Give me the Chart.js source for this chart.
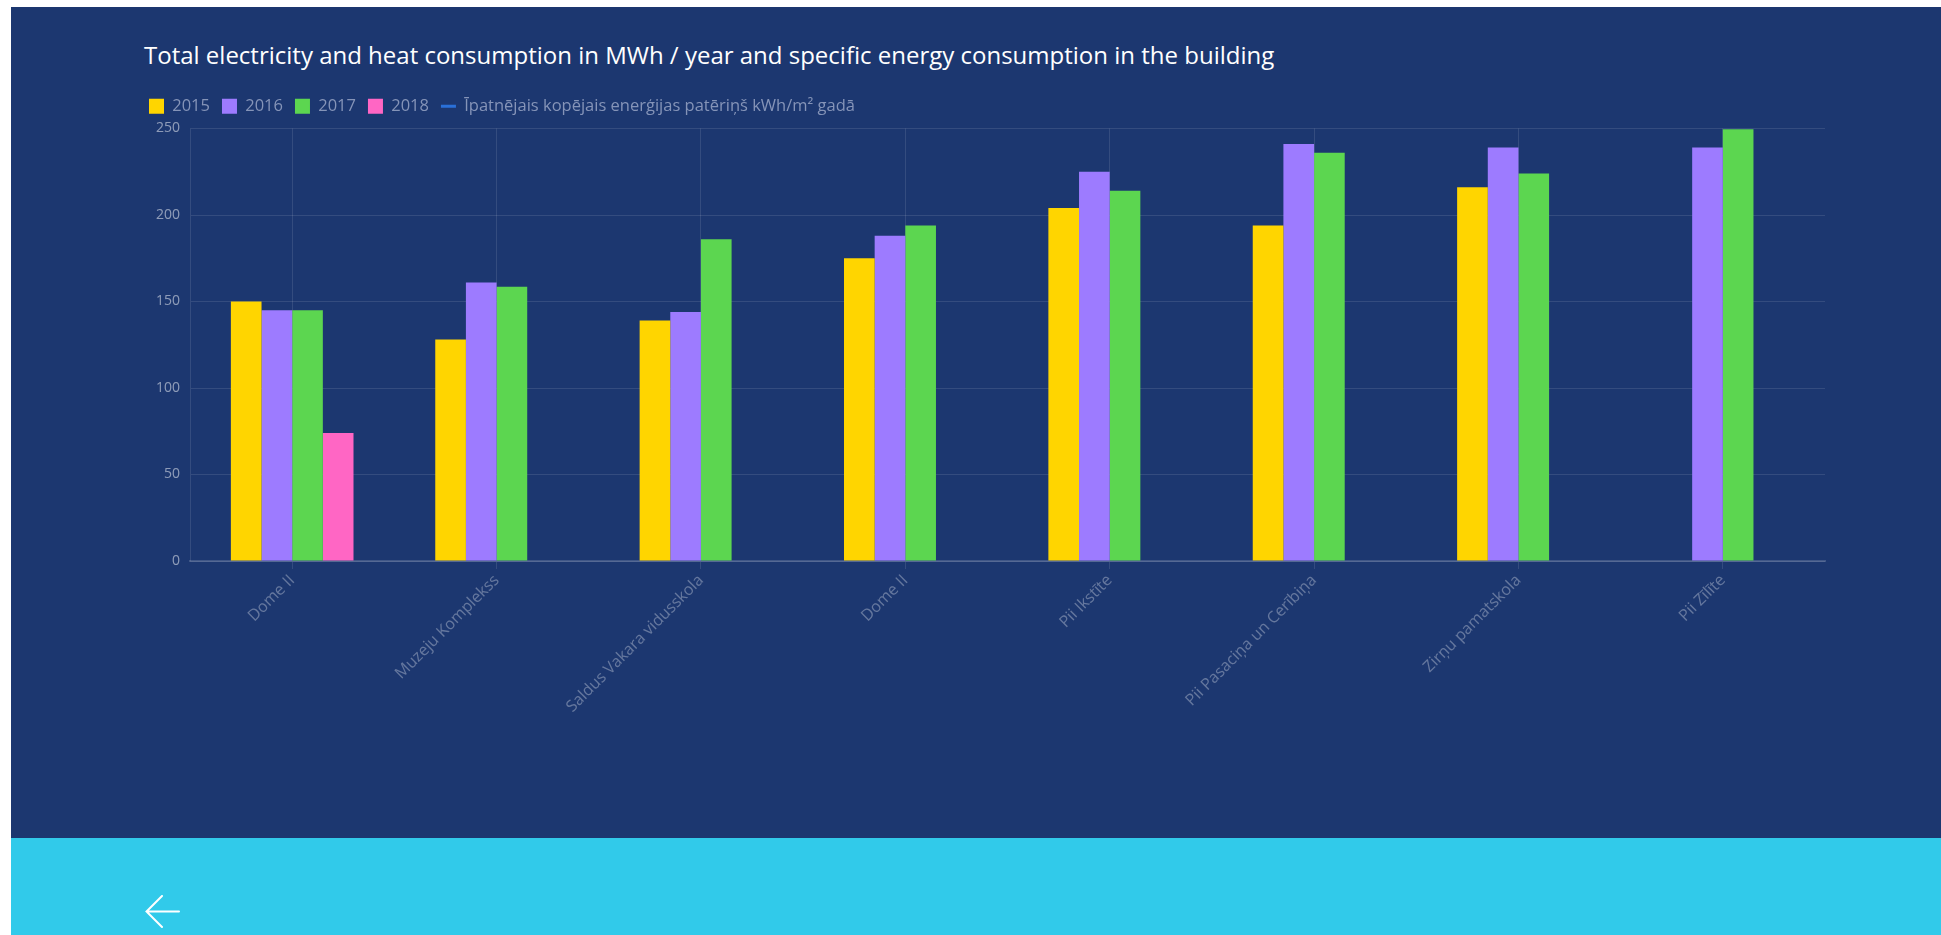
<!DOCTYPE html>
<html>
<head>
<meta charset="utf-8">
<script src="https://cdn.jsdelivr.net/npm/chart.js@4.4.1/dist/chart.umd.min.js"></script>
<style>
  body { margin: 0; background: #fff; width: 1941px; height: 935px; overflow: hidden; font-family: "Open Sans", sans-serif; }
  .panel { position: absolute; left: 11px; top: 7px; right: 0; height: 831px; background: #1c3770; }
  .footer { position: absolute; left: 11px; top: 838px; right: 0; bottom: 0; background: #31caea; }
  .title { position: absolute; left: 144px; top: 43px; font-size: 24px; line-height: 24px; color: #fff; white-space: nowrap; }
  .chart-box { position: absolute; left: 123px; top: 0; width: 1760px; height: 760px; }
  .back { position: absolute; left: 145px; top: 895px; }
</style>
</head>
<body>
<div class="panel"></div>
<div class="footer"></div>
<div class="title">Total electricity and heat consumption in MWh / year and specific energy consumption in the building</div>
<div class="chart-box"><canvas id="consumptionChart"></canvas></div>
<svg class="back" width="36" height="34" viewBox="0 0 36 34">
  <path d="M17 1 L1.5 16.5 L17 32 M1.5 16.5 L34 16.5" stroke="#fff" stroke-width="2" fill="none" stroke-linecap="round"/>
</svg>
<script>
const buildings = [
  "Dome II", "Muzeju Komplekss", "Saldus Vakara vidusskola", "Dome II",
  "Pii Ikstīte", "Pii Pasaciņa un Cerībiņa", "Zirņu pamatskola", "Pii Zīlīte"
];

const y2015 = [150, 128, 139, 175, 204, 194, 216, null];
const y2016 = [145, 161, 144, 188, 225, 241, 239, 239];
const y2017 = [145, 158.5, 186, 194, 214, 236, 224, 249.5];
const y2018 = [74, null, null, null, null, null, null, null];

// specific consumption line is only in the legend, no points shown
const specific = [null, null, null, null, null, null, null, null];

const yTicks = [0, 50, 100, 150, 200, 250];

const gridColor = "rgba(255,255,255,0.11)";
const tickColor = "rgba(255,255,255,0.5)";

// a bit of space under the legend
const legendGap = {
  id: "legendGap",
  beforeInit(chart) {
    const fit = chart.legend.fit;
    chart.legend.fit = function () {
      fit.bind(chart.legend)();
      this.height += 4;
    };
  }
};

const ctx = document.getElementById("consumptionChart");

new Chart(ctx, {
  type: "bar",
  data: {
    labels: buildings,
    datasets: [
      { label: "2015", data: y2015, backgroundColor: "#ffd500", pointStyle: "rect", borderWidth: 0 },
      { label: "2016", data: y2016, backgroundColor: "#9d7bff", pointStyle: "rect", borderWidth: 0 },
      { label: "2017", data: y2017, backgroundColor: "#5cd650", pointStyle: "rect", borderWidth: 0 },
      { label: "2018", data: y2018, backgroundColor: "#ff66c4", pointStyle: "rect", borderWidth: 0 },
      {
        type: "line",
        label: "Īpatnējais kopējais enerģijas patēriņš kWh/m² gadā",
        data: specific,
        borderColor: "#2a70d8",
        backgroundColor: "#2a70d8",
        borderWidth: 3,
        pointStyle: "line"
      }
    ]
  },
  plugins: [legendGap],
  options: {
    responsive: true,
    maintainAspectRatio: false,
    animation: false,
    layout: {
      padding: { top: 86, left: 14, right: 58, bottom: 0 }
    },
    datasets: {
      bar: { categoryPercentage: 0.6, barPercentage: 1.0 }
    },
    plugins: {
      tooltip: { enabled: false },
      legend: {
        position: "top",
        align: "start",
        labels: {
          color: "#8594b8",
          font: { family: "Open Sans", size: 16.5 },
          usePointStyle: true,
          pointStyleWidth: 15,
          boxHeight: 15,
          padding: 12
        }
      }
    },
    scales: {
      x: {
        offset: true,
        grid: { color: gridColor, offset: false, tickLength: 8 },
        border: { color: "rgba(255,255,255,0.16)", width: 2 },
        ticks: {
          color: "rgba(255,255,255,0.32)",
          font: { family: "Open Sans", size: 16 },
          minRotation: 45,
          maxRotation: 45,
          autoSkip: false,
          padding: 2
        },
        afterFit(scale) { scale.height = 199; }
      },
      y: {
        min: yTicks[0],
        max: yTicks[yTicks.length - 1],
        grid: { color: gridColor, drawTicks: false },
        border: { color: gridColor, width: 1 },
        ticks: {
          stepSize: yTicks[1] - yTicks[0],
          color: tickColor,
          font: { family: "Open Sans", size: 14 },
          padding: 10
        },
        afterFit(scale) { scale.width = 53; }
      }
    }
  }
});
</script>
</body>
</html>
